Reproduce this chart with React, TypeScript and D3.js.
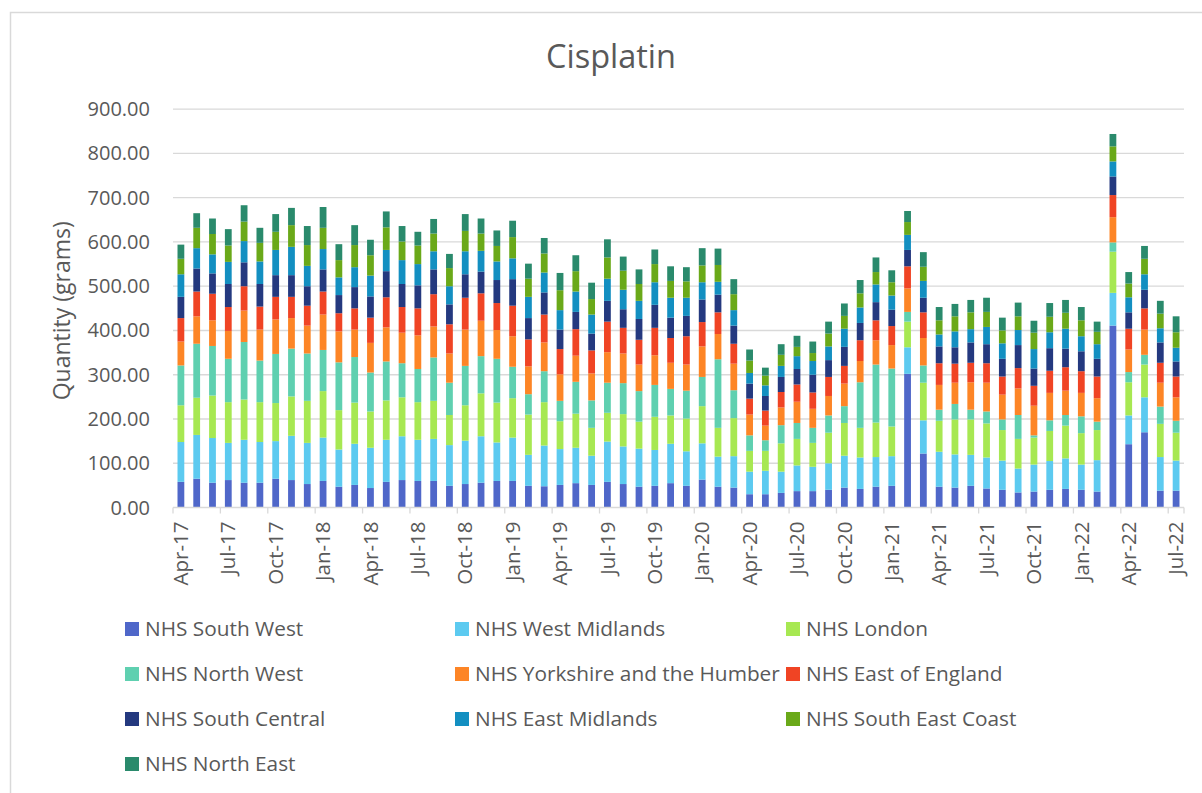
import { useMemo } from "react";
import { scaleBand, scaleLinear, stack } from "d3";

const months = [
  "Apr-17", "May-17", "Jun-17", "Jul-17", "Aug-17", "Sep-17", "Oct-17", "Nov-17", "Dec-17",
  "Jan-18", "Feb-18", "Mar-18", "Apr-18", "May-18", "Jun-18", "Jul-18", "Aug-18", "Sep-18",
  "Oct-18", "Nov-18", "Dec-18", "Jan-19", "Feb-19", "Mar-19", "Apr-19", "May-19", "Jun-19",
  "Jul-19", "Aug-19", "Sep-19", "Oct-19", "Nov-19", "Dec-19", "Jan-20", "Feb-20", "Mar-20",
  "Apr-20", "May-20", "Jun-20", "Jul-20", "Aug-20", "Sep-20", "Oct-20", "Nov-20", "Dec-20",
  "Jan-21", "Feb-21", "Mar-21", "Apr-21", "May-21", "Jun-21", "Jul-21", "Aug-21", "Sep-21",
  "Oct-21", "Nov-21", "Dec-21", "Jan-22", "Feb-22", "Mar-22", "Apr-22", "May-22", "Jun-22",
  "Jul-22",
];

const regions = [
  "NHS South West",
  "NHS West Midlands",
  "NHS London",
  "NHS North West",
  "NHS Yorkshire and the Humber",
  "NHS East of England",
  "NHS South Central",
  "NHS East Midlands",
  "NHS South East Coast",
  "NHS North East",
];

const southWest = [58, 65, 56, 62, 56, 56, 65, 62, 53, 60, 47, 51, 44, 58, 62, 60, 60, 49, 53, 56, 60, 60, 49, 48, 51, 55, 51, 58, 53, 47, 49, 55, 49, 63, 47, 45, 30, 30, 33, 37, 37, 40, 45, 42, 47, 49, 302, 122, 47, 45, 49, 43, 40, 34, 36, 40, 42, 40, 36, 411, 143, 170, 38, 38];
const westMidlands = [90, 99, 101, 84, 97, 92, 85, 100, 93, 98, 84, 93, 91, 95, 99, 93, 95, 92, 98, 105, 87, 98, 70, 92, 81, 80, 66, 91, 85, 86, 81, 89, 78, 82, 68, 71, 51, 53, 48, 58, 55, 60, 72, 71, 67, 67, 60, 75, 79, 75, 70, 70, 66, 54, 61, 65, 69, 57, 71, 74, 65, 79, 76, 68];
const london = [83, 84, 96, 92, 91, 90, 86, 89, 95, 105, 89, 93, 82, 89, 88, 85, 86, 68, 80, 97, 90, 89, 91, 98, 63, 77, 63, 65, 73, 61, 75, 64, 74, 84, 65, 86, 47, 45, 64, 60, 54, 69, 74, 67, 78, 67, 58, 85, 70, 79, 80, 77, 69, 67, 61, 68, 74, 71, 68, 93, 75, 74, 75, 63];
const northWest = [90, 122, 112, 98, 130, 94, 111, 108, 107, 93, 108, 103, 88, 88, 77, 75, 98, 73, 89, 84, 99, 71, 46, 70, 46, 72, 62, 68, 70, 69, 72, 60, 63, 66, 155, 63, 35, 24, 41, 36, 34, 39, 38, 103, 131, 131, 22, 39, 25, 35, 22, 27, 24, 54, 5, 24, 24, 38, 19, 21, 23, 22, 39, 27];
const yorkshire = [54, 62, 58, 63, 71, 70, 78, 69, 63, 80, 70, 62, 67, 77, 69, 76, 70, 66, 82, 80, 65, 69, 63, 65, 60, 59, 61, 69, 67, 60, 67, 59, 59, 69, 57, 60, 47, 33, 40, 48, 43, 44, 51, 48, 55, 53, 53, 62, 56, 48, 62, 65, 56, 60, 67, 62, 55, 53, 53, 57, 51, 57, 54, 53];
const eastOfEngland = [53, 56, 60, 54, 55, 52, 51, 48, 45, 52, 41, 48, 57, 68, 58, 61, 73, 66, 72, 62, 61, 69, 61, 63, 57, 60, 52, 69, 58, 56, 62, 56, 64, 55, 49, 45, 36, 34, 35, 39, 37, 43, 40, 47, 45, 43, 50, 58, 49, 43, 44, 44, 41, 46, 45, 50, 53, 49, 49, 50, 47, 48, 45, 47];
const southCentral = [48, 52, 46, 52, 54, 51, 49, 49, 44, 50, 41, 48, 48, 59, 52, 52, 56, 45, 53, 49, 52, 60, 48, 50, 44, 39, 38, 47, 42, 47, 52, 46, 46, 51, 40, 41, 34, 33, 34, 35, 40, 38, 43, 39, 41, 37, 37, 33, 38, 37, 46, 43, 40, 52, 39, 51, 42, 45, 40, 42, 37, 42, 46, 34];
const eastMidlands = [51, 46, 43, 50, 48, 51, 57, 64, 46, 46, 40, 45, 47, 48, 54, 48, 41, 41, 52, 47, 42, 47, 48, 45, 44, 46, 43, 50, 44, 41, 51, 45, 41, 39, 29, 35, 24, 24, 25, 29, 31, 31, 41, 35, 40, 32, 34, 38, 27, 36, 30, 39, 35, 34, 44, 36, 45, 34, 33, 34, 34, 35, 32, 31];
const southEastCoast = [35, 46, 46, 37, 44, 42, 41, 49, 47, 48, 39, 50, 46, 51, 42, 42, 40, 41, 46, 39, 35, 48, 41, 43, 45, 46, 35, 48, 43, 38, 41, 38, 37, 38, 38, 36, 28, 22, 25, 21, 18, 29, 29, 32, 28, 30, 29, 32, 32, 34, 38, 34, 29, 31, 37, 35, 36, 36, 28, 34, 31, 35, 33, 35];
const northEast = [32, 33, 35, 37, 37, 34, 40, 39, 43, 47, 36, 45, 35, 36, 35, 31, 33, 32, 38, 34, 35, 37, 34, 35, 39, 36, 37, 41, 32, 33, 33, 33, 32, 39, 37, 34, 25, 18, 24, 25, 26, 27, 28, 30, 33, 27, 25, 33, 30, 28, 28, 32, 29, 31, 27, 31, 29, 30, 23, 28, 26, 29, 29, 36];

const seriesValues = [
  southWest, westMidlands, london, northWest, yorkshire,
  eastOfEngland, southCentral, eastMidlands, southEastCoast, northEast,
];

const colors = [
  "#4F67C9", "#5CCAF0", "#A7E852", "#5FD0B0", "#FD8526",
  "#F04424", "#24397F", "#138FC1", "#6AA919", "#2A8A6C",
];

const yTicks = [0, 100, 200, 300, 400, 500, 600, 700, 800, 900];

const FONT = "'Open Sans', 'Liberation Sans', sans-serif";
const GREY = "#595959";

export default function App() {
  const margin = { left: 173, right: 1184, top: 110, bottom: 507.5 };

  const x = scaleBand<string>()
    .domain(months)
    .range([margin.left, margin.right])
    .paddingInner(0.57)
    .paddingOuter(0.285);
  const step = x.step();
  const y = scaleLinear().domain([0, 900]).range([margin.bottom, margin.top - 0.8]);

  const layers = useMemo(() => {
    const rows = months.map((m, i) => {
      const row: Record<string, number | string> = { month: m };
      regions.forEach((r, k) => (row[r] = seriesValues[k][i]));
      return row;
    });
    return stack<Record<string, number | string>>().keys(regions)(rows as any);
  }, []);

  const legendCols = [125, 455, 786];
  const legendRows = [629, 674, 719, 764];

  return (
    <svg
      width={1202}
      height={793}
      style={{ position: "absolute", left: 0, top: 0, background: "#fff" }}
      fontFamily={FONT}
    >
      <rect x={10.5} y={12.5} width={1200} height={800} fill="#fff" stroke="#D9D9D9" strokeWidth={1.5} />
      <text x={611} y={68} textAnchor="middle" fontSize={32.5} fill={GREY}>
        Cisplatin
      </text>

      {yTicks.map((t) => (
        <g key={t}>
          {t > 0 && (
            <line x1={margin.left} x2={margin.right} y1={y(t)} y2={y(t)} stroke="#D9D9D9" strokeWidth={1.3} />
          )}
          <text x={150} y={y(t)} dy="0.35em" textAnchor="end" fontSize={20} fill={GREY}>
            {t.toFixed(2)}
          </text>
        </g>
      ))}

      <text
        transform={`translate(62, ${(margin.top + margin.bottom) / 2 + 2}) rotate(-90)`}
        textAnchor="middle"
        fontSize={23}
        fill={GREY}
        dy="0.35em"
      >
        Quantity (grams)
      </text>

      {layers.map((layer, k) => (
        <g key={regions[k]} fill={colors[k]}>
          {layer.map((d, i) => (
            <rect
              key={months[i]}
              x={x(months[i])}
              y={y(d[1])}
              width={x.bandwidth()}
              height={Math.max(0, y(d[0]) - y(d[1]))}
            />
          ))}
        </g>
      ))}

      <line x1={margin.left} x2={margin.right} y1={y(0)} y2={y(0)} stroke="#D9D9D9" strokeWidth={1.5} />
      {months.map((m, i) =>
        i % 3 === 0 ? (
          <g key={m}>
            <line
              x1={margin.left + i * step}
              x2={margin.left + i * step}
              y1={y(0)}
              y2={y(0) + 6}
              stroke="#D9D9D9"
              strokeWidth={1.3}
            />
            <text
              transform={`translate(${(x(m) as number) + x.bandwidth() / 2}, ${y(0) + 14}) rotate(-90)`}
              textAnchor="end"
              dy="0.35em"
              fontSize={20.5}
              fill={GREY}
            >
              {m}
            </text>
          </g>
        ) : null
      )}
      <line x1={margin.right} x2={margin.right} y1={y(0)} y2={y(0) + 6} stroke="#D9D9D9" strokeWidth={1.3} />

      {regions.map((r, k) => {
        const lx = legendCols[k % 3];
        const cy = legendRows[Math.floor(k / 3)];
        return (
          <g key={r}>
            <rect x={lx} y={cy - 7} width={14} height={14} fill={colors[k]} />
            <text x={lx + 20} y={cy} dy="0.35em" fontSize={20.8} fill={GREY}>
              {r}
            </text>
          </g>
        );
      })}
    </svg>
  );
}
